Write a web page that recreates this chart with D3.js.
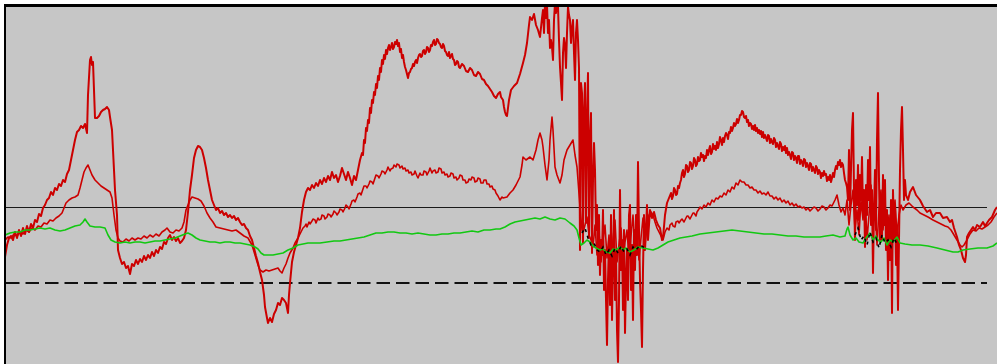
<!DOCTYPE html>
<html>
<head>
<meta charset="utf-8">
<script src="https://cdn.jsdelivr.net/npm/d3@7"></script>
<style>
  html, body { margin: 0; padding: 0; background: #ffffff; overflow: hidden; }
  svg { display: block; }
</style>
</head>
<body>
<svg id="chart" width="997" height="364"></svg>
<script>
// Series as [time index, value] pairs.
const redA = [
  [0,26],[2,38],[4,45],[6,47],[8,43],[10,51],[12,45],[14,53],[16,47],[18,55],[20,49],[22,57],[24,51],[26,59],[28,55],[30,63],[32,61],[34,69],[36,67],[38,75],
  [40,78],[42,83],[44,85],[46,91],[48,88],[50,95],[52,93],[54,99],[56,97],[58,103],[60,101],[62,109],[64,113],[66,123],[68,133],[70,143],[72,151],[74,153],[76,157],[78,155],
  [80,159],[82,150],[83,188],[85,223],[86,226],[87,218],[88,221],[89,193],[90,165],[92,165],[94,167],[96,171],[98,173],[100,174],[102,176],[104,173],[105,166],[107,153],[108,133],[110,93],
  [112,68],[113,33],[115,25],[117,19],[119,21],[121,15],[123,17],[125,9],[127,19],[129,17],[131,23],[133,19],[135,24],[137,21],[139,27],[141,23],[143,28],[145,25],[147,31],[149,27],
  [151,33],[153,30],[155,36],[157,34],[159,41],[161,39],[163,45],[165,48],[167,43],[169,46],[171,42],[173,45],[175,40],[177,42],[179,45],[181,53],[183,71],[185,93],[187,108],[189,125],
  [191,133],[193,137],[195,136],[197,133],[199,125],[201,115],[203,103],[205,93],[207,83],[209,78],[211,73],[213,75],[215,70],[217,72],[219,68],[221,70],[223,66],[225,68],[227,65],[229,67],
  [231,63],[233,65],[235,61],[237,58],[239,59],[241,55],[243,53],[245,47],[247,43],[249,35],[251,27],[253,20],[255,11],[257,3],[259,-12],[260,-24],[262,-35],[263,-40],[265,-35],[267,-39],
  [269,-31],[271,-27],[273,-20],[275,-22],[277,-15],[279,-17],[281,-20],[283,-30],[284,-12],[285,0],[287,21],[289,31],[291,38],[293,45],[295,55],[297,71],[299,83],[301,91],[303,95],[305,93],
  [307,98],[309,95],[311,100],[313,97],[315,103],[317,99],[319,105],[321,101],[323,107],[325,103],[327,111],[329,105],[331,108],[333,101],[335,107],[337,115],[339,109],[341,103],[343,111],[345,105],
  [347,98],[349,107],[351,103],[353,113],
  [355,123],[357,130],[358,128],[359,143],[360,140],[361,155],[362,152],[363,163],[364,160],[365,175],[366,170],[367,183],[368,180],[369,191],[370,188],[371,199],[372,195],[373,207],[374,203],[375,215],
  [376,211],[377,223],[378,219],[379,228],[380,224],[381,233],[382,229],[383,235],[384,238],[385,233],[386,236],[387,240],[388,234],[389,236],[390,241],[391,239],[392,243],[393,237],[394,240],[395,231],
  [396,234],[397,225],[398,228],[399,221],[400,216],[401,213],[402,209],[403,205],[404,210],[405,211],[406,214],[407,215],[408,219],[409,217],[410,221],[411,223],[412,220],[413,225],[414,228],[415,229],
  [416,226],[417,227],[418,232],[419,233],[420,229],[421,231],[422,236],[423,235],[424,231],[425,233],[426,238],[427,237],[428,241],[429,243],[430,238],[431,239],[432,244],[433,243],[434,240],[435,239],
  [436,236],[437,235],[438,239],[439,237],[440,232],[441,231],[442,228],[443,227],[444,231],[445,225],[446,227],[447,229],[448,224],[449,223],[450,218],[451,219],[452,222],[453,221],[454,216],[455,215],
  [457,219],[459,217],[461,212],[463,211],[465,215],[467,213],[469,208],[471,207],[473,211],[475,209],[477,204],[479,203],[481,199],[483,197],[485,194],[487,191],[489,187],[491,185],[493,189],[495,191],
  [496,186],[498,183],[499,176],[500,171],[501,168],[502,167],[503,175],[504,183],
  [506,193],[509,197],[512,200],[515,209],[518,220],[520,228],[522,240],[524,258],[525,266],[527,263],[529,269],[531,258],[533,253],[535,246],[537,265],
  [538,273],[539,250],[540,280],[541,265],[542,278],[543,250],[544,263],[545,235],[546,243],[547,236],[548,223],[549,263],[550,280],[551,270],[552,283],[553,276],[554,243],[555,216],[556,200],[557,183],
  [558,230],[559,245],[560,238],[561,215],[562,250],[563,276],[564,268],[565,263],[566,240],[567,255],[568,263],[569,230],[570,203],[571,250],[572,263],[573,243],[574,215],[575,33],[576,200],[577,190],
  [578,40],[579,173],[580,200],[581,60],[582,165],[583,210],[584,45],[585,143],[586,170],[587,30],[588,103],[589,140],[590,113],[591,53],[592,78],[593,18],[594,68],[595,8],[596,43],
  [597,28],[598,73],[599,-7],[600,33],[601,-17],[602,-62],[603,3],[604,43],[605,-22],[606,68],[607,-37],[608,23],[609,73],[610,-17],[611,33],[612,-47],[613,-79],
  [614,-17],[615,93],[616,13],[617,43],[618,-27],[619,53],[620,-50],[621,3],[622,33],[623,-17],[624,68],[625,78],[626,-7],[627,38],[628,-37],[629,53],[630,13],[631,68],[632,28],[633,121],
  [634,53],[635,3],[636,-27],[637,-64],[638,13],[639,68],[640,33],[641,53],[642,78],[643,43],[644,58],[645,73],[647,65],[649,71],[651,63],[653,58],[655,55],[657,43],[658,45],
  [660,68],[662,80],[664,85],[666,90],[667,84],[668,87],[669,95],[670,93],[671,88],[672,89],[673,97],[674,95],[675,100],[676,103],[677,110],[678,113],[679,106],[680,109],[681,118],[682,117],
  [683,111],[684,113],[685,121],[686,120],[687,114],[688,117],[689,125],[690,123],[691,117],[692,119],[693,126],[694,122],[695,123],[696,130],[697,126],[698,128],[699,122],[700,127],[701,125],[702,133],
  [703,128],[704,133],[705,137],[706,129],[707,131],[708,139],[709,134],[710,137],[711,133],[712,141],[713,135],[714,139],[715,146],[716,143],[717,138],[718,145],[719,141],[720,147],[721,150],[722,148],
  [723,144],[724,151],[725,150],[726,156],[727,152],[728,155],[729,160],[730,157],[731,159],[732,164],[733,160],[734,163],[735,168],[736,168],[737,172],[738,171],[739,166],[740,165],[741,167],[742,161],
  [743,163],[744,157],[745,160],[746,159],[747,154],[748,157],[749,153],[750,158],[751,152],[752,155],[753,150],[754,153],[755,149],[756,152],[757,146],[758,151],[759,145],[760,148],[761,145],[762,142],
  [763,148],[764,147],[765,140],[766,144],[767,141],[768,139],[769,145],[770,143],[771,136],[772,140],[773,137],[774,134],[775,141],[776,139],[777,132],[778,136],[779,133],[780,137],[781,130],[782,135],
  [783,128],[784,131],[785,128],[786,124],[787,131],[788,130],[789,123],[790,127],[791,125],[792,120],[793,127],[794,127],[795,119],[796,123],[797,121],[798,117],[799,124],[800,123],[801,116],[802,120],
  [803,117],[804,113],[805,120],[806,119],[807,112],[808,116],[809,113],[810,110],[811,117],[812,115],[813,109],[814,113],[815,111],[816,105],[817,110],[818,107],[819,112],[820,108],[821,109],[822,102],
  [823,106],[824,103],[825,108],[826,101],[827,105],[828,110],[829,106],[830,113],[831,117],[832,114],[833,121],[834,118],[835,123],[836,116],[837,120],[838,118],[839,110],[840,103],[841,100],[842,96],
  [843,83],[844,133],[845,73],[846,113],[847,153],[848,170],[849,93],[850,43],[851,103],[852,78],[853,118],
  [854,63],[855,108],[856,83],[857,126],[858,68],[859,93],[860,36],[861,98],[862,68],[863,123],[864,83],[865,136],[866,58],[867,93],[868,10],[869,73],[870,113],[871,53],[872,143],[873,190],
  [874,103],[875,43],[876,83],[877,43],[878,108],[879,58],[880,103],[881,33],[882,73],[883,3],[884,63],[885,23],[886,83],[887,-30],[888,93],[889,43],[890,78],[891,18],[892,53],[893,-27],
  [894,43],[895,113],[896,153],[897,176],[898,133],[899,83],[900,103],[901,88],[903,83],[905,91],[908,96],[911,88],[915,83],[918,77],[922,71],[925,73],[928,66],[931,70],[935,70],[938,65],
  [942,66],[945,61],[947,63],[949,55],[952,46],[954,38],[956,33],[958,25],[960,21],[961,28],[962,46],[964,50],[966,53],[968,56],[970,53],[972,58],[975,56],[978,61],[980,57],[982,60],
  [984,63],[987,66],[990,73],[992,76]
];

const redB = [
  [0,43],[3,46],[6,45],[9,49],[12,47],[15,51],[18,49],[21,53],[24,51],[27,55],[30,53],[33,57],[36,56],[39,60],[42,59],[45,63],[48,62],[51,65],[54,67],[57,70],
  [59,75],[61,80],[64,83],[67,85],[70,86],[73,88],[75,95],[77,103],[79,111],[81,115],[83,118],[85,113],[87,108],[90,103],[93,100],[96,97],[99,95],[102,93],[105,91],[107,85],
  [109,68],[111,53],[113,45],[115,42],[118,41],[121,44],[124,42],[127,45],[130,43],[133,45],[136,44],[139,47],[142,45],[145,48],[148,46],[151,49],[154,47],[157,51],[160,53],[162,55],
  [165,51],[168,50],[171,53],[174,52],[177,55],[179,61],[181,73],[183,78],[185,83],[187,86],[190,85],[193,84],[196,82],[199,77],[202,70],[205,65],[208,61],[211,56],[215,55],[219,54],
  [223,53],[227,52],[231,53],[235,50],[239,47],[243,45],[247,38],[250,28],[253,18],[255,13],[258,11],[261,13],[264,12],[267,13],[270,14],[273,15],[275,12],[277,10],[279,15],[281,19],
  [283,25],[285,30],[288,35],[290,40],[293,45],[295,49],
  [298,55],[300,57],[301,59],[302,56],[304,61],[305,59],[307,62],[308,64],[310,63],[311,60],[313,65],[314,63],[316,64],[317,68],[319,67],[320,64],[322,66],[323,69],[325,68],[326,66],
  [328,69],[329,72],[331,70],[332,68],[334,71],[335,74],[337,73],[338,71],[340,75],[341,78],[343,76],[344,74],[346,79],[347,82],[349,83],[350,81],[352,86],[353,89],[355,90],[356,88],
  [358,94],[359,97],[361,97],[362,95],[364,99],[365,102],[367,101],[368,99],[370,105],[371,108],[373,107],[374,105],[376,109],[377,112],[379,111],[380,109],[382,113],[383,116],[385,112],[386,114],
  [388,115],[389,118],[391,116],[392,119],[394,118],[395,115],[397,117],[398,114],[400,115],[401,112],[403,113],[404,110],[406,111],[407,108],[409,109],[410,112],[412,107],[413,105],[415,110],[416,108],
  [418,108],[419,112],[421,111],[422,108],[424,112],[425,115],[427,110],[428,112],[430,113],[431,110],[433,111],[434,115],[436,114],[437,110],[439,111],[440,108],[442,109],[443,106],[445,107],[446,110],
  [448,109],[449,105],[451,106],[452,103],[454,105],[455,108],[457,107],[458,103],[460,103],[461,100],[463,101],[464,104],[466,103],[467,106],[469,105],[470,101],[472,102],[473,105],[475,104],[476,100],
  [478,100],[479,103],[481,103],[482,99],[484,99],[485,96],[487,97],[488,94],[490,93],[491,90],[493,87],[494,85],[495,83],[497,86],[498,85],
  [502,86],[505,90],[508,93],[511,98],[515,106],[517,118],
  [518,126],[521,123],[525,126],[528,123],[531,133],[533,143],[535,150],[537,143],[538,136],[540,118],[542,103],[544,123],[545,143],[547,166],[548,153],[550,116],[552,108],[555,100],[557,108],[559,123],
  [562,133],[565,138],[568,143],[570,128],[572,116],[575,76],[577,53],[578,50],[580,58],[582,66],[584,48],[586,43],[588,36],[590,58],[592,28],[594,51],[596,21],[598,43],[600,58],[602,25],
  [604,48],[606,13],[608,43],[610,63],[612,21],[614,38],[616,55],[618,18],[620,41],[622,53],[624,25],[626,47],[628,68],[630,33],[632,51],[634,23],[636,45],[638,65],[640,38],[642,58],
  [644,68],[646,71],[648,68],[650,61],[652,55],[654,51],[656,47],[658,43],
  [660,51],[662,55],[664,53],[665,58],[667,60],[668,57],[670,56],[671,61],[673,62],[674,60],[676,63],[677,64],[679,61],[680,63],[682,67],[683,67],[685,64],[686,66],[688,70],[689,70],
  [691,67],[692,71],[694,74],[695,76],[697,74],[699,78],[701,76],[703,80],[705,78],[707,83],[709,81],[711,85],[713,84],[715,87],[717,86],[719,90],[721,88],[723,93],[725,91],[727,96],
  [729,94],[731,100],[733,98],[735,103],[737,101],[739,101],[741,98],[743,98],[745,95],[747,96],[749,93],[751,93],[753,90],[755,92],[757,89],[759,90],[761,88],[763,91],[765,87],[767,87],
  [769,84],[771,86],[773,83],[775,85],[777,81],[779,83],[781,80],[783,82],[785,78],[787,80],[789,77],[791,79],[793,76],[795,77],[797,75],[799,76],[801,73],[803,75],[805,72],[807,74],
  [809,76],[811,75],[813,72],[815,74],[817,77],[819,76],[821,73],[823,75],[825,78],[827,77],
  [830,83],[832,88],[834,78],[836,71],[838,75],[840,68],
  [842,83],[844,58],[846,78],[848,93],[850,53],[852,73],[854,48],[856,83],[858,63],[860,88],[862,43],[864,68],[866,98],[868,58],[870,78],[872,38],[874,73],[876,93],[878,53],[880,78],
  [882,43],[884,68],[886,33],[888,63],[890,83],[892,48],[894,68],[896,78],[898,73],[901,78],[904,80],[908,76],[912,73],[915,70],[919,68],[923,66],[928,63],[932,61],[936,59],[940,57],
  [943,56],[946,53],[949,48],[952,43],[955,38],[957,36],[959,38],[962,43],[965,49],[968,53],[971,52],[974,55],[977,54],[980,56],[983,58],[986,61],[989,66],[992,70]
];

const green = [
  [0,48],[5,50],[10,51],[15,51],[20,53],[25,53],[30,54],[35,55],[40,54],[45,55],[50,53],[55,52],[60,53],[65,55],[70,57],[75,58],[78,61],[80,64],[82,61],[85,57],
  [90,56],[95,56],[100,55],[103,48],[106,43],[110,41],[115,40],[120,41],[125,40],[130,41],[135,41],[140,40],[145,41],[150,42],[155,42],[160,43],[165,44],[170,45],[175,47],[180,49],
  [183,50],[187,48],[191,45],[195,43],[200,42],[205,41],[210,41],[215,40],[220,41],[225,41],[230,40],[235,40],[240,39],[245,38],[250,36],[253,34],[256,30],[259,28],[263,28],[268,28],
  [273,29],[278,30],[283,33],[288,35],[293,38],[298,39],[303,40],[308,40],[315,40],[322,41],[329,42],[335,42],[341,43],[347,44],[353,45],[359,46],[365,48],[371,50],[377,50],[383,51],
  [389,51],[395,50],[401,50],[407,49],[413,50],[419,49],[425,48],[431,48],[437,49],[443,49],[449,50],[455,50],[461,51],[467,52],[473,51],[479,53],[485,53],[491,54],[495,54],[500,56],
  [505,59],[510,61],[515,62],[520,63],[525,64],[530,65],[535,64],[540,66],[545,64],[550,63],[555,65],[560,64],[565,60],[569,57],[572,53],[574,45],[576,38],[579,40],[582,43],[585,41],
  [588,37],[591,35],[595,33],[598,34],[601,31],[605,30],[608,34],[611,33],[615,36],[618,33],[621,35],[625,31],[629,33],[633,36],[638,35],[643,34],[648,33],[653,35],[658,38],[663,41],
  [669,43],[675,45],[681,46],[687,47],[695,49],[703,50],[711,51],[719,52],[727,53],[735,52],[743,51],[751,50],[759,49],[767,49],[775,48],[783,47],[791,47],[799,46],[807,46],[815,46],
  [821,47],[828,48],[835,46],[840,47],[842,54],[843,56],[845,48],[848,43],[851,45],[854,41],[858,40],[861,45],[865,50],[868,43],[871,47],[873,43],[876,41],[879,45],[882,38],[885,43],
  [888,41],[892,46],[895,40],[900,39],[907,38],[915,38],[923,37],[932,35],[940,33],[948,31],[953,31],[958,33],[965,34],[973,35],[982,35],[988,37],[992,40]
];

// Dark trace visible only where it departs from the green one; null marks a break.
const black = [
  [577,50],[580,55],[583,45],[586,38],[589,40],[592,33],[595,31],[598,36],[601,28],[604,33],[607,27],[610,35],[613,30],[616,37],[619,31],[622,34],[625,28],[628,36],[631,33],[635,38],[640,35],
  [641,null],
  [850,48],[853,55],[856,43],[859,47],[862,38],[865,51],[868,41],[871,45],[874,35],[877,48],[880,40],[883,43],[886,36],[889,45],[892,39]
];

// Horizontal reference levels: upper solid, lower dashed.
const upperLevel = 76;
const lowerLevel = 0;
const levelEnd = 982;

const svg = d3.select("#chart");
const W = 997, H = 364;
const plot = { left: 5, top: 6 };

const x = d3.scaleLinear().domain([0, 992]).range([5, 997]);
const y = d3.scaleLinear().domain([-81, 277]).range([364, 6]);

// Plot background
svg.append("rect")
  .attr("x", plot.left).attr("y", plot.top)
  .attr("width", W - plot.left + 10).attr("height", H - plot.top + 10)
  .attr("fill", "#c6c6c6");

svg.append("defs").append("clipPath").attr("id", "plotClip")
  .append("rect")
  .attr("x", plot.left + 1).attr("y", plot.top + 1)
  .attr("width", W - plot.left).attr("height", H - plot.top);

const g = svg.append("g").attr("clip-path", "url(#plotClip)");

// Reference levels
g.append("line")
  .attr("x1", x(0)).attr("x2", x(levelEnd))
  .attr("y1", y(upperLevel) + 0.5).attr("y2", y(upperLevel) + 0.5)
  .attr("stroke", "#1a1a1a").attr("stroke-width", 1.2);

g.append("line")
  .attr("x1", x(0) + 1).attr("x2", x(levelEnd))
  .attr("y1", y(lowerLevel)).attr("y2", y(lowerLevel))
  .attr("stroke", "#111").attr("stroke-width", 2)
  .attr("stroke-dasharray", "13.5,6");

const line = d3.line()
  .defined(d => d[1] !== null)
  .x(d => x(d[0]))
  .y(d => y(d[1]));

g.append("path").datum(redA)
  .attr("d", line).attr("fill", "none")
  .attr("stroke", "#cc0000").attr("stroke-width", 2)
  .attr("stroke-linejoin", "round");

g.append("path").datum(redB)
  .attr("d", line).attr("fill", "none")
  .attr("stroke", "#cc0000").attr("stroke-width", 1.6)
  .attr("stroke-linejoin", "round");

g.append("path").datum(green)
  .attr("d", line).attr("fill", "none")
  .attr("stroke", "#12c812").attr("stroke-width", 1.6)
  .attr("stroke-linejoin", "round");

g.append("path").datum(black)
  .attr("d", line).attr("fill", "none")
  .attr("stroke", "#000").attr("stroke-width", 1.6)
  .attr("stroke-dasharray", "3,4");

// Frame: left and top edges
svg.append("line")
  .attr("x1", 5).attr("x2", 5).attr("y1", 4).attr("y2", H)
  .attr("stroke", "#000").attr("stroke-width", 2);
svg.append("line")
  .attr("x1", 4).attr("x2", W).attr("y1", 5.5).attr("y2", 5.5)
  .attr("stroke", "#000").attr("stroke-width", 3);
</script>
</body>
</html>
